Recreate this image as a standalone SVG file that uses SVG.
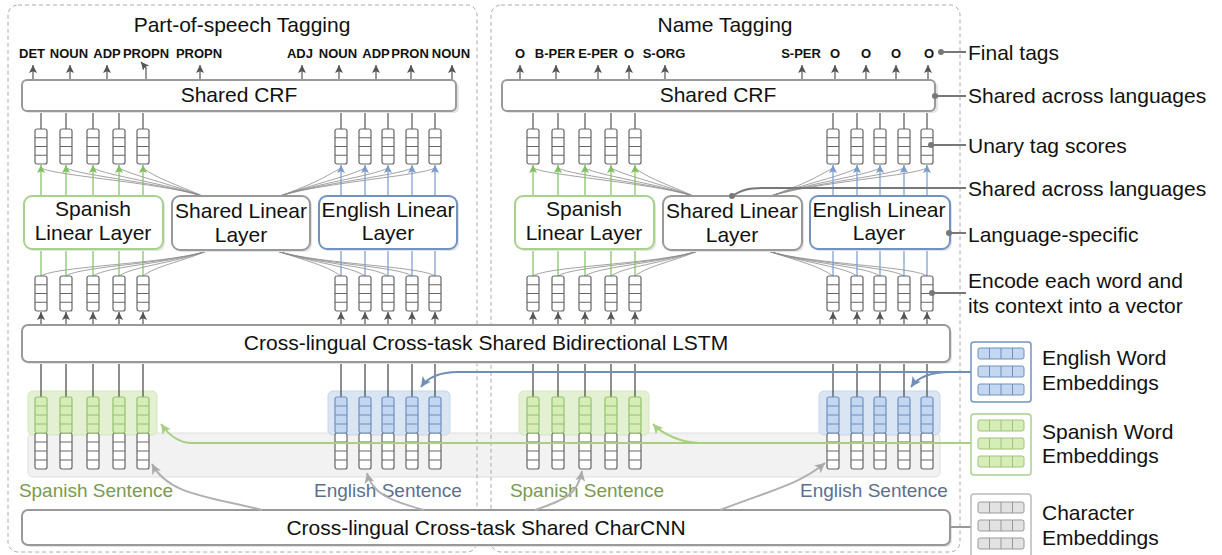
<svg xmlns="http://www.w3.org/2000/svg" xmlns:xlink="http://www.w3.org/1999/xlink" width="1222" height="555" viewBox="0 0 1222 555">
<style>
text{font-family:"Liberation Sans",Arial,Helvetica,sans-serif;fill:#111}
.t21{font-size:21px}
.tag{font-size:13px;font-weight:bold;text-anchor:middle}
.mid{text-anchor:middle}
.panel{fill:none;stroke:#aaa;stroke-width:1;stroke-dasharray:4 3}
.box{fill:#fff;stroke:#999;stroke-width:2}
.shd{fill:#e4e4e4}
.gbox{fill:#fff;stroke:#a9d18e;stroke-width:2}
.bbox{fill:#fff;stroke:#7393bf;stroke-width:2}
.dk{stroke:#555;stroke-width:1.2;fill:none}
.gl{stroke:#80c060;stroke-width:1.2;fill:none}
.bl{stroke:#7a9bcc;stroke-width:1.2;fill:none}
.fan{stroke:#8a8a8a;stroke-width:0.8;fill:none}
.ann{stroke:#777;stroke-width:2;fill:none}
.dot{fill:#777}
</style>
<defs>
<marker id="aDk" markerUnits="userSpaceOnUse" markerWidth="9" markerHeight="9" refX="8" refY="4.5" orient="auto"><path d="M0,0.5 L8,4.5 L0,8.5 L1.8,4.5 z" fill="#555"/></marker>
<marker id="aG" markerUnits="userSpaceOnUse" markerWidth="9" markerHeight="9" refX="8" refY="4.5" orient="auto"><path d="M0,0.5 L8,4.5 L0,8.5 L1.8,4.5 z" fill="#80c060"/></marker>
<marker id="aB" markerUnits="userSpaceOnUse" markerWidth="9" markerHeight="9" refX="8" refY="4.5" orient="auto"><path d="M0,0.5 L8,4.5 L0,8.5 L1.8,4.5 z" fill="#7a9bcc"/></marker>
<marker id="aGray" markerUnits="userSpaceOnUse" markerWidth="11" markerHeight="11" refX="10" refY="5.5" orient="auto"><path d="M0,0.5 L10,5.5 L0,10.5 L2.5,5.5 z" fill="#aaa"/></marker>
<marker id="aGG" markerUnits="userSpaceOnUse" markerWidth="11" markerHeight="11" refX="10" refY="5.5" orient="auto"><path d="M0,0.5 L10,5.5 L0,10.5 L2.5,5.5 z" fill="#a8d080"/></marker>
<marker id="aBB" markerUnits="userSpaceOnUse" markerWidth="11" markerHeight="11" refX="10" refY="5.5" orient="auto"><path d="M0,0.5 L10,5.5 L0,10.5 L2.5,5.5 z" fill="#6f8fb8"/></marker>
<g id="v4"><rect x="-6" y="0" width="12" height="35" rx="2" fill="#fff" stroke="#666" stroke-width="1.2"/><path d="M-6,8.75h12M-6,17.5h12M-6,26.25h12" stroke="#666" stroke-width="1.2"/></g>
<g id="vG"><rect x="-6" y="36" width="12" height="36" rx="2" fill="#fff" stroke="#666" stroke-width="1.2"/><path d="M-6,45h12M-6,54h12M-6,63h12" stroke="#666" stroke-width="1.2"/><rect x="-6" y="0" width="12" height="36" rx="2" fill="#d6edb8" stroke="#95c271" stroke-width="1.2"/><path d="M-6,9h12M-6,18h12M-6,27h12" stroke="#95c271" stroke-width="1.2"/></g>
<g id="vB"><rect x="-6" y="36" width="12" height="36" rx="2" fill="#fff" stroke="#666" stroke-width="1.2"/><path d="M-6,45h12M-6,54h12M-6,63h12" stroke="#666" stroke-width="1.2"/><rect x="-6" y="0" width="12" height="36" rx="2" fill="#c3d7f0" stroke="#6f8fbf" stroke-width="1.2"/><path d="M-6,9h12M-6,18h12M-6,27h12" stroke="#6f8fbf" stroke-width="1.2"/></g>
<g id="rowB"><rect x="0" y="0" width="46" height="11" rx="2" fill="#c3d7f0" stroke="#6f8fbf" stroke-width="1"/><path d="M11.5,0v11M23,0v11M34.5,0v11" stroke="#6f8fbf" stroke-width="1"/></g>
<g id="rowG"><rect x="0" y="0" width="46" height="11" rx="2" fill="#d6edb8" stroke="#9cc47a" stroke-width="1"/><path d="M11.5,0v11M23,0v11M34.5,0v11" stroke="#9cc47a" stroke-width="1"/></g>
<g id="rowC"><rect x="0" y="0" width="46" height="11" rx="2" fill="#e2e2e2" stroke="#999" stroke-width="1"/><path d="M11.5,0v11M23,0v11M34.5,0v11" stroke="#999" stroke-width="1"/></g>
</defs>

<g id="sentence-bg">
<rect x="28" y="433" width="912" height="44" rx="5" fill="#f2f2f2" stroke="#dedede" stroke-width="1"/>
<rect x="28" y="391" width="129" height="44" rx="5" fill="#e3f0d2" stroke="#d3e7bd" stroke-width="1"/>
<rect x="328" y="391" width="122" height="44" rx="5" fill="#dae5f3" stroke="#c6d6ea" stroke-width="1"/>
<rect x="519" y="391" width="130" height="44" rx="5" fill="#e3f0d2" stroke="#d3e7bd" stroke-width="1"/>
<rect x="819" y="391" width="121" height="44" rx="5" fill="#dae5f3" stroke="#c6d6ea" stroke-width="1"/>
</g>

<g id="panel-pos">
<rect class="panel" x="8" y="5" width="469" height="547" rx="10"/>
<text class="t21 mid" x="242" y="32">Part-of-speech Tagging</text>
</g>
<g id="panel-ner">
<rect class="panel" x="491" y="5" width="469" height="547" rx="10"/>
<text class="t21 mid" x="725" y="32">Name Tagging</text>
</g>

<g id="connectors">
<g marker-end="url(#aDk)" class="dk">
<path d="M33,80V65"/><path d="M70,80V65"/><path d="M107,80V65"/><path d="M146,80V68L141,62"/><path d="M200,80V65"/><path d="M302,80V65"/><path d="M339,80V65"/><path d="M376,80V65"/><path d="M411,80V65"/><path d="M452,80V65"/>
<path d="M520,80V65"/><path d="M556,80V65"/><path d="M598,80V65"/><path d="M629,80V65"/><path d="M665,80V65"/><path d="M802,80V65"/><path d="M835,80V65"/><path d="M866,80V65"/><path d="M896,80V65"/><path d="M928,80V65"/>
</g>
<path class="dk" d="M41,111V129M66,111V129M93,111V129M119,111V129M143,111V129M341,111V129M365,111V129M388,111V129M412,111V129M435,111V129M533,111V129M558,111V129M585,111V129M611,111V129M635,111V129M833,111V129M857,111V129M880,111V129M904,111V129M927,111V129"/>
<path class="fan" d="M205,197C165,183 56,176 41,168M205,197C165,183 81,176 66,168M205,197C165,183 108,176 93,168M205,197C168,183 134,176 119,168M205,197C175,184 156,178 143,168M277,197C317,183 326,176 341,168M277,197C317,183 350,176 365,168M277,197C317,183 373,176 388,168M277,197C317,183 397,176 412,168M277,197C317,183 420,176 435,168"/>
<path class="fan" d="M696,197C656,183 548,176 533,168M696,197C656,183 573,176 558,168M696,197C656,183 600,176 585,168M696,197C659,183 626,176 611,168M696,197C666,184 648,178 635,168M768,197C808,183 818,176 833,168M768,197C808,183 842,176 857,168M768,197C808,183 865,176 880,168M768,197C808,183 889,176 904,168M768,197C808,183 912,176 927,168"/>
<path class="fan" d="M207,251C167,264 56,266 41,276M207,251C167,264 81,266 66,276M207,251C167,264 108,266 93,276M207,251C170,264 134,266 119,276M207,251C177,263 156,266 143,276M277,251C317,264 326,266 341,276M277,251C317,264 350,266 365,276M277,251C317,264 373,266 388,276M277,251C317,264 397,266 412,276M277,251C317,264 420,266 435,276"/>
<path class="fan" d="M698,251C658,264 548,266 533,276M698,251C658,264 573,266 558,276M698,251C658,264 600,266 585,276M698,251C661,264 626,266 611,276M698,251C668,263 648,266 635,276M768,251C808,264 818,266 833,276M768,251C808,264 842,266 857,276M768,251C808,264 865,266 880,276M768,251C808,264 889,266 904,276M768,251C808,264 912,266 927,276"/>
<g class="gl" marker-end="url(#aG)"><path d="M41,196V165"/><path d="M66,196V165"/><path d="M93,196V165"/><path d="M119,196V165"/><path d="M143,196V165"/><path d="M533,196V165"/><path d="M558,196V165"/><path d="M585,196V165"/><path d="M611,196V165"/><path d="M635,196V165"/></g>
<g class="bl" marker-end="url(#aB)"><path d="M341,196V165"/><path d="M365,196V165"/><path d="M388,196V165"/><path d="M412,196V165"/><path d="M435,196V165"/><path d="M833,196V165"/><path d="M857,196V165"/><path d="M880,196V165"/><path d="M904,196V165"/><path d="M927,196V165"/></g>
<path class="gl" d="M41,249V276M66,249V276M93,249V276M119,249V276M143,249V276M533,249V276M558,249V276M585,249V276M611,249V276M635,249V276"/>
<path class="bl" d="M341,249V276M365,249V276M388,249V276M412,249V276M435,249V276M833,249V276M857,249V276M880,249V276M904,249V276M927,249V276"/>
<g class="dk" marker-end="url(#aDk)"><path d="M41,325V312"/><path d="M66,325V312"/><path d="M93,325V312"/><path d="M119,325V312"/><path d="M143,325V312"/><path d="M341,325V312"/><path d="M365,325V312"/><path d="M388,325V312"/><path d="M412,325V312"/><path d="M435,325V312"/><path d="M533,325V312"/><path d="M558,325V312"/><path d="M585,325V312"/><path d="M611,325V312"/><path d="M635,325V312"/><path d="M833,325V312"/><path d="M857,325V312"/><path d="M880,325V312"/><path d="M904,325V312"/><path d="M927,325V312"/></g>
<path d="M41,362V397M66,362V397M93,362V397M119,362V397M143,362V397M341,362V397M365,362V397M388,362V397M412,362V397M435,362V397M533,362V397M558,362V397M585,362V397M611,362V397M635,362V397M833,362V397M857,362V397M880,362V397M904,362V397M927,362V397" stroke="#444" stroke-width="1.2" fill="none"/>
</g>

<g id="crf-pos"><rect class="shd" x="24" y="82" width="435" height="31" rx="5"/><rect class="box" x="22" y="80" width="434" height="31" rx="5"/><text class="t21 mid" x="239" y="102">Shared CRF</text></g>
<g id="crf-ner"><rect class="shd" x="504" y="82" width="434" height="31" rx="5"/><rect class="box" x="502" y="80" width="433" height="31" rx="5"/><text class="t21 mid" x="718" y="102">Shared CRF</text></g>

<g id="tags-pos">
<text class="tag" x="32" y="58">DET</text><text class="tag" x="69" y="58">NOUN</text><text class="tag" x="107" y="58">ADP</text><text class="tag" x="146" y="58">PROPN</text><text class="tag" x="199" y="58">PROPN</text><text class="tag" x="300" y="58">ADJ</text><text class="tag" x="338" y="58">NOUN</text><text class="tag" x="376" y="58">ADP</text><text class="tag" x="410" y="58">PRON</text><text class="tag" x="451" y="58">NOUN</text>
</g>
<g id="tags-ner">
<text class="tag" x="520" y="58">O</text><text class="tag" x="555" y="58">B-PER</text><text class="tag" x="598" y="58">E-PER</text><text class="tag" x="629" y="58">O</text><text class="tag" x="664" y="58">S-ORG</text><text class="tag" x="801" y="58">S-PER</text><text class="tag" x="835" y="58">O</text><text class="tag" x="866" y="58">O</text><text class="tag" x="896" y="58">O</text><text class="tag" x="929" y="58">O</text>
</g>

<g id="scores-pos">
<use href="#v4" x="41" y="129"/><use href="#v4" x="66" y="129"/><use href="#v4" x="93" y="129"/><use href="#v4" x="119" y="129"/><use href="#v4" x="143" y="129"/>
<use href="#v4" x="341" y="129"/><use href="#v4" x="365" y="129"/><use href="#v4" x="388" y="129"/><use href="#v4" x="412" y="129"/><use href="#v4" x="435" y="129"/>
</g>
<g id="scores-ner">
<use href="#v4" x="533" y="129"/><use href="#v4" x="558" y="129"/><use href="#v4" x="585" y="129"/><use href="#v4" x="611" y="129"/><use href="#v4" x="635" y="129"/>
<use href="#v4" x="833" y="129"/><use href="#v4" x="857" y="129"/><use href="#v4" x="880" y="129"/><use href="#v4" x="904" y="129"/><use href="#v4" x="927" y="129"/>
</g>

<g id="spanish-linear-pos"><rect class="shd" x="26" y="198" width="139" height="53" rx="8"/><rect class="gbox" x="24" y="196" width="139" height="53" rx="8"/><text class="t21 mid" x="93" y="216">Spanish</text><text class="t21 mid" x="93" y="240">Linear Layer</text></g>
<g id="shared-linear-pos"><rect class="shd" x="174" y="198" width="138" height="54" rx="8"/><rect class="box" x="172" y="196" width="138" height="54" rx="8"/><text class="t21 mid" x="241" y="218">Shared Linear</text><text class="t21 mid" x="241" y="242">Layer</text></g>
<g id="english-linear-pos"><rect class="shd" x="321" y="198" width="138" height="53" rx="8"/><rect class="bbox" x="319" y="196" width="138" height="53" rx="8"/><text class="t21 mid" x="388" y="217">English Linear</text><text class="t21 mid" x="388" y="240">Layer</text></g>

<g id="spanish-linear-ner"><rect class="shd" x="517" y="198" width="139" height="53" rx="8"/><rect class="gbox" x="515" y="196" width="139" height="53" rx="8"/><text class="t21 mid" x="584" y="216">Spanish</text><text class="t21 mid" x="584" y="240">Linear Layer</text></g>
<g id="shared-linear-ner"><rect class="shd" x="665" y="198" width="139" height="54" rx="8"/><rect class="box" x="663" y="196" width="139" height="54" rx="8"/><text class="t21 mid" x="732" y="218">Shared Linear</text><text class="t21 mid" x="732" y="242">Layer</text></g>
<g id="english-linear-ner"><rect class="shd" x="812" y="198" width="140" height="53" rx="8"/><rect class="bbox" x="810" y="196" width="140" height="53" rx="8"/><text class="t21 mid" x="879" y="217">English Linear</text><text class="t21 mid" x="879" y="240">Layer</text></g>

<g id="lstm-out-pos">
<use href="#v4" x="41" y="276"/><use href="#v4" x="66" y="276"/><use href="#v4" x="93" y="276"/><use href="#v4" x="119" y="276"/><use href="#v4" x="143" y="276"/>
<use href="#v4" x="341" y="276"/><use href="#v4" x="365" y="276"/><use href="#v4" x="388" y="276"/><use href="#v4" x="412" y="276"/><use href="#v4" x="435" y="276"/>
</g>
<g id="lstm-out-ner">
<use href="#v4" x="533" y="276"/><use href="#v4" x="558" y="276"/><use href="#v4" x="585" y="276"/><use href="#v4" x="611" y="276"/><use href="#v4" x="635" y="276"/>
<use href="#v4" x="833" y="276"/><use href="#v4" x="857" y="276"/><use href="#v4" x="880" y="276"/><use href="#v4" x="904" y="276"/><use href="#v4" x="927" y="276"/>
</g>

<g id="lstm"><rect class="shd" x="24" y="327" width="928" height="37" rx="6"/><rect class="box" x="22" y="325" width="928" height="37" rx="6"/><text class="t21 mid" x="486" y="350">Cross-lingual Cross-task Shared Bidirectional LSTM</text></g>

<g id="emb-pos">
<use href="#vG" x="41" y="397"/><use href="#vG" x="66" y="397"/><use href="#vG" x="93" y="397"/><use href="#vG" x="119" y="397"/><use href="#vG" x="143" y="397"/>
<use href="#vB" x="341" y="397"/><use href="#vB" x="365" y="397"/><use href="#vB" x="388" y="397"/><use href="#vB" x="412" y="397"/><use href="#vB" x="435" y="397"/>
</g>
<g id="emb-ner">
<use href="#vG" x="533" y="397"/><use href="#vG" x="558" y="397"/><use href="#vG" x="585" y="397"/><use href="#vG" x="611" y="397"/><use href="#vG" x="635" y="397"/>
<use href="#vB" x="833" y="397"/><use href="#vB" x="857" y="397"/><use href="#vB" x="880" y="397"/><use href="#vB" x="904" y="397"/><use href="#vB" x="927" y="397"/>
</g>

<g id="sentence-labels">
<text x="96" y="497" class="mid" style="font-size:19px;fill:#7a9a4f">Spanish Sentence</text>
<text x="388" y="497" class="mid" style="font-size:19px;fill:#5b6f8e">English Sentence</text>
<text x="587" y="497" class="mid" style="font-size:19px;fill:#7a9a4f">Spanish Sentence</text>
<text x="874" y="497" class="mid" style="font-size:19px;fill:#5b6f8e">English Sentence</text>
</g>

<g id="charcnn"><rect class="shd" x="24" y="512" width="928" height="35" rx="6"/><rect class="box" x="22" y="510" width="928" height="35" rx="6"/><text class="t21 mid" x="486" y="535">Cross-lingual Cross-task Shared CharCNN</text></g>

<g id="embedding-connectors" fill="none" stroke-width="2">
<path d="M971,372H458C440,372 428,377 421,387" stroke="#6f8fb8" marker-end="url(#aBB)"/>
<path d="M950,372C932,372 918,377 911,387" stroke="#6f8fb8" marker-end="url(#aBB)"/>
<path d="M971,443H192C178,443 168,434 161,424" stroke="#a8d080" marker-end="url(#aGG)"/>
<path d="M700,443C682,443 662,434 653,424" stroke="#a8d080" marker-end="url(#aGG)"/>
<path d="M262,510C205,496 168,494 152,464" stroke="#b0b0b0" marker-end="url(#aGray)"/>
<path d="M424,510C388,500 372,493 367,473" stroke="#b0b0b0" marker-end="url(#aGray)"/>
<path d="M535,510C565,500 578,494 582,471" stroke="#b0b0b0" marker-end="url(#aGray)"/>
<path d="M720,510C772,490 800,484 825,463" stroke="#b0b0b0" marker-end="url(#aGray)"/>
<path d="M950,527H978" stroke="#999"/>
</g>

<g id="annotations">
<path class="ann" d="M941,52H966"/><circle class="dot" cx="941" cy="52" r="3"/>
<text class="t21" x="968" y="60">Final tags</text>
<path class="ann" d="M935,96H966"/><circle class="dot" cx="935" cy="96" r="3"/>
<text class="t21" x="968" y="103">Shared across languages</text>
<path class="ann" d="M931,145H966"/><circle class="dot" cx="931" cy="145" r="3"/>
<text class="t21" x="968" y="153">Unary tag scores</text>
<path class="ann" d="M732,196C742,190 748,188 762,188H966"/><circle class="dot" cx="732" cy="196" r="3"/>
<text class="t21" x="968" y="196">Shared across languages</text>
<path class="ann" d="M949,233H966"/><circle class="dot" cx="949" cy="233" r="3"/>
<text class="t21" x="968" y="242">Language-specific</text>
<path class="ann" d="M932,293H966"/><circle class="dot" cx="932" cy="293" r="3"/>
<text class="t21" x="968" y="288">Encode each word and</text>
<text class="t21" x="968" y="313">its context into a vector</text>
</g>

<g id="legend-english">
<rect x="971" y="342" width="60" height="60" rx="3" fill="#fff" stroke="#7393bf" stroke-width="1.5"/>
<use href="#rowB" x="978" y="348"/><use href="#rowB" x="978" y="366"/><use href="#rowB" x="978" y="384"/>
<text class="t21" x="1042" y="365">English Word</text><text class="t21" x="1042" y="390">Embeddings</text>
</g>
<g id="legend-spanish">
<rect x="971" y="414" width="60" height="61" rx="3" fill="#fff" stroke="#a9d18e" stroke-width="1.5"/>
<use href="#rowG" x="978" y="420"/><use href="#rowG" x="978" y="438"/><use href="#rowG" x="978" y="456"/>
<text class="t21" x="1042" y="439">Spanish Word</text><text class="t21" x="1042" y="463">Embeddings</text>
</g>
<g id="legend-char">
<rect x="971" y="494" width="60" height="64" rx="3" fill="#fff" stroke="#bbb" stroke-width="1.5"/>
<use href="#rowC" x="978" y="502"/><use href="#rowC" x="978" y="520"/><use href="#rowC" x="978" y="538"/>
<text class="t21" x="1042" y="520">Character</text><text class="t21" x="1042" y="545">Embeddings</text>
</g>
</svg>
